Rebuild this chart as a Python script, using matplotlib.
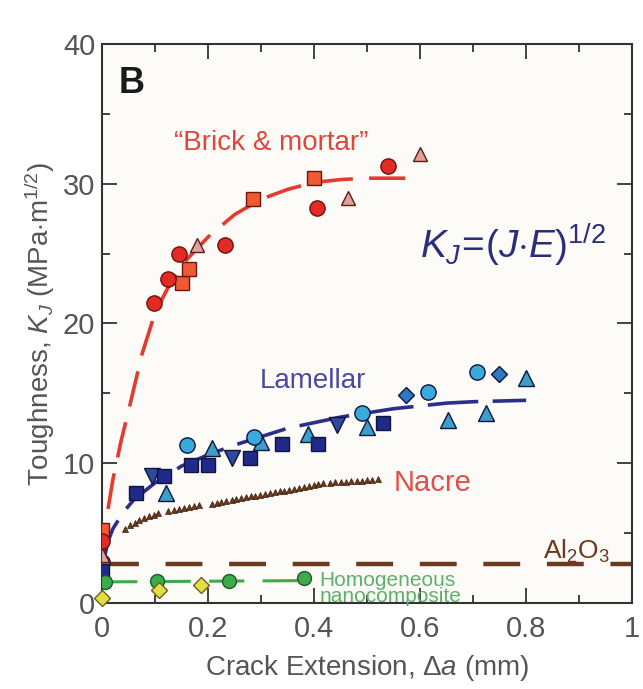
import numpy as np
import matplotlib
matplotlib.use("Agg")
import matplotlib.pyplot as plt

plt.rcParams['font.family'] = ['Liberation Sans', 'DejaVu Sans']
plt.rcParams['mathtext.fontset'] = 'custom'
plt.rcParams['mathtext.rm'] = 'Liberation Sans'
plt.rcParams['mathtext.it'] = 'Liberation Sans:italic'

# ---- data ----
# "Brick & mortar" (red)
bm_circ_x = [0.0, 0.097, 0.125, 0.145, 0.232, 0.405, 0.54]
bm_circ_y = [4.4, 21.5, 23.2, 25.0, 25.6, 28.3, 31.3]
bm_sq_x = [0.0, 0.15, 0.164, 0.285, 0.399]
bm_sq_y = [5.2, 22.9, 23.9, 28.9, 30.4]
bm_tri_x = [0.0, 0.179, 0.464, 0.60]
bm_tri_y = [3.4, 25.6, 29.0, 32.1]
bm_fit_x = [0.0, 0.01, 0.02, 0.035, 0.05, 0.075, 0.1, 0.13, 0.16, 0.2, 0.25, 0.3,
            0.35, 0.4, 0.45, 0.5, 0.6]
bm_fit_y = [3.0, 6.5, 8.8, 11.5, 13.8, 17.8, 20.8, 23.0, 24.6, 26.2, 27.8, 28.9,
            29.6, 30.1, 30.3, 30.4, 30.4]

# Lamellar (blue)
lam_sq_x = [0.0, 0.063, 0.116, 0.167, 0.20, 0.278, 0.34, 0.407, 0.53]
lam_sq_y = [2.3, 7.9, 9.1, 9.9, 9.9, 10.4, 11.4, 11.4, 12.9]
lam_circ_x = [0.0, 0.16, 0.287, 0.49, 0.614, 0.707]
lam_circ_y = [2.9, 11.3, 11.9, 13.6, 15.1, 16.5]
lam_tri_x = [0.12, 0.207, 0.30, 0.388, 0.50, 0.652, 0.724, 0.80]
lam_tri_y = [7.9, 11.1, 11.5, 12.1, 12.6, 13.1, 13.6, 16.1]
lam_itri_x = [0.093, 0.245, 0.443]
lam_itri_y = [9.1, 10.4, 12.7]
lam_dia_x = [0.574, 0.749]
lam_dia_y = [14.9, 16.4]
lam_fit_x = [0.0, 0.01, 0.02, 0.04, 0.06, 0.1, 0.15, 0.2, 0.25, 0.3, 0.35, 0.4,
             0.45, 0.5, 0.55, 0.6, 0.65, 0.7, 0.8]
lam_fit_y = [2.5, 4.3, 5.3, 6.5, 7.4, 8.6, 9.8, 10.6, 11.3, 11.9, 12.5, 12.9,
             13.3, 13.6, 13.9, 14.1, 14.3, 14.4, 14.5]

# Nacre (brown small triangles)
nacre_x = [0.043, 0.052, 0.061, 0.070, 0.079, 0.088, 0.097, 0.106,
           0.125, 0.135, 0.144, 0.154, 0.164, 0.173, 0.183,
           0.207, 0.216, 0.225, 0.234, 0.244, 0.253, 0.262, 0.271, 0.280, 0.289,
           0.298, 0.307, 0.317, 0.326, 0.335, 0.344, 0.353, 0.362, 0.371, 0.380,
           0.390, 0.399, 0.408, 0.417,
           0.430, 0.440, 0.450, 0.460, 0.470, 0.480, 0.490, 0.500, 0.510, 0.520]
nacre_y = [5.3, 5.55, 5.75, 5.9, 6.05, 6.2, 6.3, 6.4,
           6.6, 6.65, 6.7, 6.8, 6.85, 6.9, 7.0,
           7.1, 7.17, 7.24, 7.3, 7.37, 7.43, 7.5, 7.56, 7.62, 7.68,
           7.74, 7.8, 7.86, 7.92, 7.98, 8.04, 8.1, 8.16, 8.22, 8.28,
           8.35, 8.42, 8.5, 8.57,
           8.6, 8.62, 8.65, 8.68, 8.7, 8.73, 8.76, 8.8, 8.83, 8.86]

# Homogeneous nanocomposite (green) and yellow diamonds
grn_x = [0.005, 0.103, 0.24, 0.38]
grn_y = [1.5, 1.6, 1.6, 1.8]
grn_fit_x = [0.0, 0.4]
grn_fit_y = [1.5, 1.6]
yel_x = [0.0, 0.108, 0.186]
yel_y = [0.35, 0.95, 1.3]

# Al2O3 reference level
al2o3_k = 2.8

fig = plt.figure(figsize=(6.43, 6.89), dpi=100)
fig.patch.set_facecolor('white')
ax = fig.add_axes([0.159, 0.125, 0.824, 0.811])
ax.set_facecolor('#fdfbf7')

# reference + fit lines
ax.plot([0, 1], [al2o3_k, al2o3_k], color='#6b3a1e', lw=3.2, dashes=(8.3, 6), zorder=2)
ax.plot(grn_fit_x, grn_fit_y, color='#3dab4c', lw=2.2, dashes=(11.5, 6), zorder=2)
ax.plot(lam_fit_x, lam_fit_y, color='#2b2e8c', lw=2.6, dashes=(14, 4), zorder=4)
ax.plot(bm_fit_x, bm_fit_y, color='#e53a2f', lw=2.6, dashes=(10, 4.5), zorder=2)

# nacre
ax.plot(nacre_x, nacre_y, ls='none', marker='^', ms=4.5, color='#6b3a1e',
        mec='#3a1e0c', mew=0.5, zorder=3)

# lamellar markers
mk = dict(ls='none', mew=1.0, mec='#10143a', zorder=5)
ax.plot(lam_tri_x, lam_tri_y, marker='^', ms=11, mfc='#3c9fcb', **mk)
ax.plot(lam_itri_x, lam_itri_y, marker='v', ms=11, mfc='#2e4a9e', **mk)
ax.plot(lam_circ_x, lam_circ_y, marker='o', ms=11, mfc='#38aade', **mk)
ax.plot(lam_dia_x, lam_dia_y, marker='D', ms=8.5, mfc='#2f78bd', **mk)
ax.plot(lam_sq_x, lam_sq_y, marker='s', ms=10.5, mfc='#1f2a8a', **mk)

# brick & mortar markers
mk = dict(ls='none', mew=1.0, mec='#6a1510', zorder=6)
ax.plot(bm_tri_x, bm_tri_y, marker='^', ms=10, mfc='#d8a4a0', **mk)
ax.plot(bm_sq_x, bm_sq_y, marker='s', ms=10.5, mfc='#ef5a32', **mk)
ax.plot(bm_circ_x, bm_circ_y, marker='o', ms=11, mfc='#e42a24', **mk)

# green / yellow
ax.plot(grn_x, grn_y, ls='none', marker='o', ms=10, mfc='#3dab4c', mec='#1c5a22',
        mew=1.0, zorder=6)
ax.plot(yel_x, yel_y, ls='none', marker='D', ms=8, mfc='#e5dc4a', mec='#6e6210',
        mew=1.0, zorder=6, clip_on=False)

# annotations
ax.text(0.03, 37.2, 'B', fontsize=26, fontweight='bold', color='#1a1a1a',
        ha='left', va='center')
ax.text(0.319, 32.9, '\u201cBrick & mortar\u201d', fontsize=20, color='#e0463c',
        ha='center', va='center')
ax.text(0.775, 25.6, r'$K_J\!=\!(J{\cdot}E)^{\mathit{1/2}}$', fontsize=28,
        color='#2b2e7a', ha='center', va='center')
ax.text(0.397, 15.9, 'Lamellar', fontsize=20, color='#4a4a9e', ha='center',
        va='center')
ax.text(0.624, 8.6, 'Nacre', fontsize=21, color='#e0504c', ha='center', va='center')
ax.text(0.895, 3.7, r'Al$_2$O$_3$', fontsize=19, color='#6b3a1e', ha='center',
        va='center')
ax.text(0.41, 1.0, 'Homogeneous\nnanocomposite', fontsize=15, color='#5cb06c',
        ha='left', va='center', linespacing=0.8)

ax.set_xlim(0, 1)
ax.set_ylim(0, 40)
ax.set_xticks([0, 0.2, 0.4, 0.6, 0.8, 1])
ax.set_xticklabels(['0', '0.2', '0.4', '0.6', '0.8', '1'])
ax.set_xticks(np.arange(0.1, 1.0, 0.2), minor=True)
ax.set_yticks([0, 10, 20, 30, 40])
ax.set_yticks([5, 15, 25, 35], minor=True)
ax.tick_params(which='both', direction='in', top=True, right=True,
               labelsize=21, labelcolor='#555555', color='#333333', width=1.3)
ax.tick_params(which='major', length=11, pad=5)
ax.tick_params(axis='x', which='major', pad=9)
ax.tick_params(which='minor', length=6)
for s in ax.spines.values():
    s.set_color('#333333')
    s.set_linewidth(1.5)

ax.set_xlabel(r'Crack Extension, $\Delta a$ (mm)', fontsize=20, color='#555555',
              labelpad=7)
ax.set_ylabel(r'Toughness, $K_J$ (MPa$\cdot$m$^{1/2}$)', fontsize=20,
              color='#555555', labelpad=4)

fig.savefig('out.png', dpi=100)
